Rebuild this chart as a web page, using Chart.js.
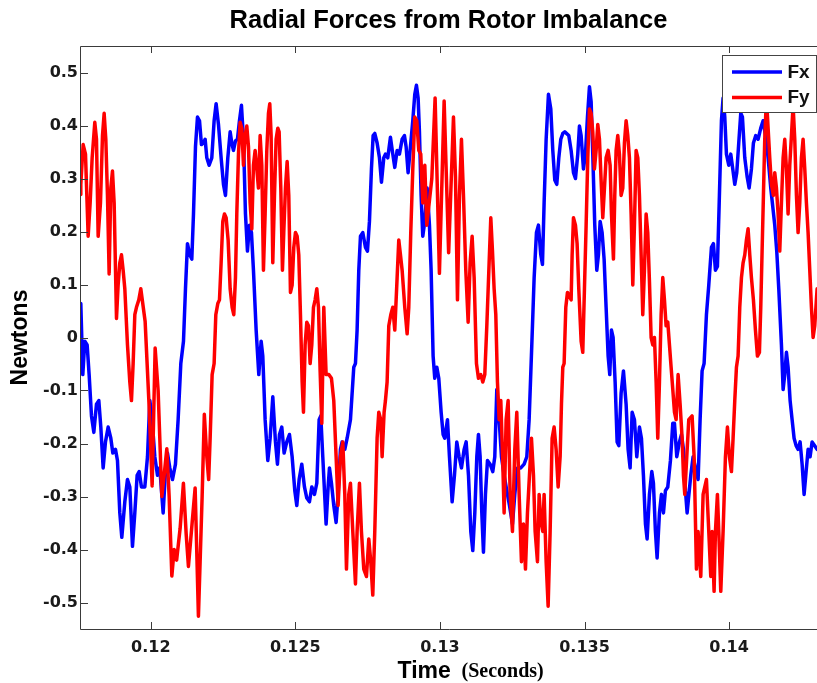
<!DOCTYPE html>
<html><head><meta charset="utf-8">
<script src="https://cdn.jsdelivr.net/npm/chart.js@4.4.1/dist/chart.umd.min.js"></script>
<style>html,body{margin:0;padding:0;background:#fff;overflow:hidden}#wrap{position:relative;width:817px;height:683px;background:#fff}</style>
</head><body><div id="wrap"><canvas id="c" width="817" height="683"></canvas></div>
<script>
const chartTitle = 'Radial Forces from Rotor Imbalance';
const yAxisLabel = 'Newtons';
const xAxisLabelMain = 'Time';
const xAxisLabelUnit = '(Seconds)';
const seriesNames = ['Fx', 'Fy'];
const seriesColors = ['#0000ff', '#ff0000'];
const xTickValues = [0.12, 0.125, 0.13, 0.135, 0.14];
const xTickLabels = ['0.12', '0.125', '0.13', '0.135', '0.14'];
const yTickValues = [-0.5, -0.4, -0.3, -0.2, -0.1, 0, 0.1, 0.2, 0.3, 0.4, 0.5];
const yTickLabels = ['-0.5', '-0.4', '-0.3', '-0.2', '-0.1', '0', '0.1', '0.2', '0.3', '0.4', '0.5'];
const xRange = [0.11755, 0.14304];
const yRange = [-0.55, 0.55];

// [time in ms, force in N]
const fxSamples = [
[117.55,0.05],[117.578,0.064],[117.647,-0.070],[117.717,-0.007],[117.797,-0.014],[117.866,-0.070],[117.947,-0.148],[118.028,-0.179],[118.120,-0.126],[118.201,-0.119],[118.270,-0.169],[118.351,-0.246],[118.431,-0.197],[118.524,-0.169],[118.616,-0.190],[118.685,-0.218],[118.777,-0.211],[118.846,-0.232],[118.927,-0.331],[118.996,-0.377],[119.100,-0.310],[119.192,-0.268],[119.273,-0.282],[119.365,-0.394],[119.446,-0.331],[119.526,-0.260],[119.596,-0.253],[119.676,-0.282],[119.792,-0.282],[119.884,-0.225],[119.965,-0.119],[120.045,-0.155],[120.137,-0.225],[120.230,-0.260],[120.310,-0.246],[120.368,-0.289],[120.426,-0.331],[120.506,-0.253],[120.575,-0.218],[120.656,-0.246],[120.748,-0.268],[120.852,-0.239],[120.944,-0.155],[121.037,-0.049],[121.129,-0.007],[121.198,0.092],[121.267,0.177],[121.348,0.156],[121.417,0.148],[121.475,0.233],[121.544,0.360],[121.613,0.416],[121.683,0.409],[121.751,0.364],
[121.820,0.367],[121.878,0.374],[121.936,0.339],[122.016,0.325],[122.108,0.339],[122.189,0.409],[122.258,0.441],[122.339,0.402],[122.431,0.339],[122.512,0.289],[122.581,0.268],[122.662,0.339],[122.743,0.388],[122.800,0.367],[122.858,0.353],[122.927,0.371],[122.996,0.374],[123.065,0.409],[123.134,0.438],[123.204,0.374],[123.273,0.233],[123.342,0.163],[123.411,0.212],[123.480,0.198],[123.549,0.127],[123.642,0.014],[123.734,-0.070],[123.815,-0.007],[123.872,-0.035],[123.953,-0.155],[124.045,-0.232],[124.126,-0.190],[124.218,-0.112],[124.310,-0.197],[124.379,-0.239],[124.449,-0.183],[124.529,-0.169],[124.610,-0.218],[124.702,-0.197],[124.794,-0.183],[124.887,-0.225],[124.979,-0.289],[125.048,-0.317],[125.129,-0.268],[125.221,-0.239],[125.313,-0.282],[125.394,-0.303],[125.486,-0.310],[125.567,-0.282],[125.659,-0.296],[125.740,-0.275],[125.821,-0.155],[125.878,-0.148],[125.947,-0.225],
[126.062,-0.352],[126.132,-0.282],[126.178,-0.246],[126.247,-0.275],[126.327,-0.317],[126.408,-0.349],[126.477,-0.296],[126.558,-0.211],[126.616,-0.197],[126.708,-0.211],[126.789,-0.190],[126.904,-0.155],[127.019,-0.056],[127.077,-0.049],[127.134,0.014],[127.192,0.127],[127.250,0.191],[127.330,0.198],[127.423,0.170],[127.492,0.163],[127.561,0.219],[127.630,0.318],[127.688,0.381],[127.745,0.385],[127.826,0.367],[127.907,0.339],[127.976,0.293],[128.057,0.339],[128.114,0.346],[128.195,0.339],[128.287,0.378],[128.368,0.346],[128.437,0.321],[128.518,0.353],[128.598,0.346],[128.691,0.374],[128.771,0.381],[128.829,0.360],[128.898,0.311],[128.979,0.360],[129.060,0.409],[129.129,0.459],[129.186,0.476],[129.244,0.452],[129.290,0.388],[129.348,0.268],[129.405,0.191],[129.475,0.219],[129.555,0.282],[129.636,0.212],[129.694,0.127],[129.763,-0.035],[129.820,-0.077],[129.890,-0.056],[129.959,-0.077],[130.040,-0.141],[130.109,-0.183],[130.166,-0.190],
[130.259,-0.155],[130.328,-0.225],[130.421,-0.310],[130.501,-0.260],[130.582,-0.197],[130.663,-0.225],[130.743,-0.246],[130.836,-0.211],[130.905,-0.197],[130.986,-0.260],[131.066,-0.366],[131.135,-0.402],[131.205,-0.331],[131.274,-0.225],[131.331,-0.183],[131.389,-0.225],[131.447,-0.331],[131.504,-0.405],[131.573,-0.296],[131.643,-0.232],[131.735,-0.239],[131.827,-0.253],[131.896,-0.225],[131.965,-0.098],[132.046,-0.155],[132.127,-0.225],[132.219,-0.260],[132.311,-0.289],[132.404,-0.317],[132.507,-0.352],[132.588,-0.296],[132.680,-0.246],[132.795,-0.246],[132.911,-0.239],[133.003,-0.225],[133.084,-0.155],[133.176,-0.014],[133.257,0.113],[133.337,0.198],[133.406,0.212],[133.487,0.156],[133.545,0.138],[133.602,0.254],[133.672,0.374],[133.752,0.459],[133.833,0.431],[133.902,0.353],[133.971,0.297],[134.040,0.289],[134.110,0.339],[134.179,0.374],[134.248,0.385],[134.317,0.388],
[134.455,0.381],[134.536,0.353],[134.617,0.311],[134.686,0.300],[134.766,0.346],[134.824,0.399],[134.882,0.381],[134.962,0.318],[135.032,0.346],[135.101,0.416],[135.170,0.473],[135.228,0.445],[135.285,0.346],[135.354,0.212],[135.424,0.127],[135.481,0.156],[135.539,0.219],[135.608,0.198],[135.677,0.148],[135.746,0.057],[135.816,-0.035],[135.873,-0.070],[135.931,0.014],[135.988,0.000],[136.058,-0.084],[136.127,-0.197],[136.185,-0.204],[136.265,-0.105],[136.346,-0.063],[136.438,-0.126],[136.507,-0.211],[136.576,-0.246],[136.646,-0.141],[136.726,-0.155],[136.807,-0.225],[136.899,-0.169],[136.968,-0.190],[137.037,-0.260],[137.107,-0.352],[137.164,-0.380],[137.245,-0.296],[137.326,-0.253],[137.383,-0.275],[137.452,-0.366],[137.510,-0.416],[137.591,-0.331],[137.660,-0.296],[137.729,-0.331],[137.798,-0.289],[137.879,-0.282],[137.971,-0.232],[138.052,-0.162],[138.110,-0.162],[138.190,-0.225],[138.283,-0.197],[138.352,-0.183],[138.421,-0.211],[138.490,-0.289],[138.548,-0.331],
[138.674,-0.260],[138.755,-0.225],[138.836,-0.246],[138.928,-0.268],[138.997,-0.155],[139.066,-0.063],[139.135,-0.049],[139.216,0.043],[139.297,0.099],[139.389,0.170],[139.458,0.177],[139.527,0.127],[139.596,0.134],[139.654,0.247],[139.735,0.409],[139.792,0.452],[139.850,0.416],[139.908,0.346],[139.988,0.325],[140.058,0.346],[140.127,0.318],[140.196,0.289],[140.265,0.311],[140.334,0.367],[140.403,0.423],[140.461,0.416],[140.542,0.339],[140.622,0.304],[140.692,0.282],[140.772,0.318],[140.841,0.367],[140.922,0.381],[141.003,0.374],[141.095,0.395],[141.176,0.409],[141.256,0.381],[141.349,0.339],[141.441,0.282],[141.510,0.247],[141.579,0.212],[141.648,0.163],[141.718,0.092],[141.810,-0.014],[141.868,-0.098],[141.925,-0.070],[141.983,-0.028],[142.040,-0.056],[142.110,-0.119],[142.179,-0.155],[142.248,-0.190],[142.317,-0.204],[142.386,-0.211],[142.455,-0.197],[142.525,-0.239],[142.594,-0.296],[142.663,-0.253],[142.732,-0.211],[142.801,-0.225],[142.870,-0.197],[143.043,-0.211]
];

const fySamples = [
[117.55,0.27],[117.578,0.289],[117.659,0.364],[117.740,0.346],[117.832,0.191],[117.901,0.254],[117.970,0.339],[118.062,0.406],[118.120,0.374],[118.178,0.191],[118.258,0.254],[118.328,0.381],[118.385,0.423],[118.443,0.374],[118.500,0.268],[118.558,0.120],[118.616,0.282],[118.673,0.314],[118.731,0.254],[118.812,0.036],[118.869,0.099],[118.927,0.141],[118.985,0.156],[119.042,0.127],[119.100,0.092],[119.192,-0.014],[119.273,-0.084],[119.330,-0.119],[119.388,-0.049],[119.446,0.043],[119.503,0.057],[119.584,0.071],[119.653,0.092],[119.803,0.030],[119.941,-0.130],[120.045,-0.280],[120.149,-0.020],[120.252,-0.100],[120.380,-0.300],[120.460,-0.260],[120.553,-0.210],[120.633,-0.300],[120.726,-0.450],[120.806,-0.400],[120.892,-0.420],[121.013,-0.360],[121.127,-0.275],[121.221,-0.370],[121.300,-0.432],[121.428,-0.350],[121.532,-0.284],[121.646,-0.526],[121.774,-0.300],[121.850,-0.145],[121.936,-0.225],[122.000,-0.268],[122.051,-0.190],
[122.120,-0.070],[122.189,-0.049],[122.247,0.043],[122.316,0.064],[122.374,0.071],[122.431,0.141],[122.489,0.219],[122.547,0.233],[122.604,0.226],[122.673,0.184],[122.743,0.092],[122.812,0.057],[122.869,0.043],[122.927,0.113],[122.973,0.233],[123.031,0.346],[123.088,0.406],[123.146,0.395],[123.204,0.325],[123.261,0.381],[123.319,0.399],[123.377,0.360],[123.434,0.254],[123.492,0.205],[123.549,0.325],[123.607,0.353],[123.665,0.318],[123.722,0.282],[123.780,0.381],[123.838,0.325],[123.895,0.127],[123.953,0.233],[124.011,0.353],[124.068,0.423],[124.114,0.441],[124.160,0.381],[124.218,0.141],[124.276,0.268],[124.333,0.374],[124.391,0.395],[124.437,0.388],[124.495,0.282],[124.552,0.127],[124.598,0.198],[124.656,0.282],[124.714,0.332],[124.771,0.268],[124.829,0.085],[124.887,0.099],[124.944,0.170],[125.002,0.198],[125.060,0.191],[125.117,0.156],[125.175,0.043],[125.233,-0.084],[125.279,-0.141],[125.336,-0.014],[125.394,0.029],[125.452,0.022],[125.509,-0.049],[125.567,-0.014],[125.625,0.057],[125.682,0.071],[125.740,0.092],[125.798,0.057],[125.855,-0.063],[125.913,-0.162],[125.982,0.057],
[126.062,-0.070],[126.155,-0.070],[126.247,-0.077],[126.327,-0.119],[126.408,-0.225],[126.477,-0.317],[126.558,-0.225],[126.639,-0.197],[126.708,-0.296],[126.766,-0.437],[126.846,-0.296],[126.904,-0.275],[126.985,-0.366],[127.077,-0.465],[127.134,-0.366],[127.215,-0.275],[127.284,-0.366],[127.365,-0.437],[127.457,-0.451],[127.538,-0.380],[127.607,-0.423],[127.676,-0.486],[127.745,-0.366],[127.826,-0.190],[127.884,-0.141],[127.953,-0.155],[127.999,-0.225],[128.068,-0.141],[128.114,-0.119],[128.172,-0.084],[128.230,0.022],[128.299,0.043],[128.368,0.057],[128.437,0.014],[128.518,0.113],[128.575,0.184],[128.633,0.156],[128.691,0.127],[128.783,0.057],[128.864,0.007],[128.921,0.057],[128.990,0.198],[129.060,0.318],[129.129,0.416],[129.198,0.409],[129.267,0.353],[129.336,0.346],[129.405,0.254],[129.475,0.325],[129.544,0.212],[129.718,0.300],[129.832,0.452],[129.981,0.121],[130.144,0.446],[130.300,0.160],
[130.467,0.416],[130.536,0.304],[130.605,0.071],[130.674,0.268],[130.743,0.374],[130.813,0.268],[130.893,0.127],[130.974,0.029],[131.043,0.141],[131.112,0.191],[131.182,0.113],[131.262,-0.049],[131.331,-0.077],[131.412,-0.070],[131.481,-0.084],[131.550,-0.070],[131.620,0.022],[131.700,0.141],[131.758,0.226],[131.816,0.163],[131.873,0.092],[131.931,0.043],[131.988,-0.084],[132.046,-0.155],[132.104,-0.119],[132.173,-0.239],[132.219,-0.331],[132.288,-0.155],[132.357,-0.119],[132.427,-0.296],[132.507,-0.366],[132.588,-0.211],[132.657,-0.141],[132.738,-0.296],[132.818,-0.423],[132.888,-0.352],[132.957,-0.437],[133.026,-0.331],[133.095,-0.260],[133.164,-0.190],[133.234,-0.260],[133.291,-0.366],[133.372,-0.423],[133.430,-0.296],[133.487,-0.345],[133.556,-0.366],[133.602,-0.296],[133.672,-0.423],[133.741,-0.507],[133.810,-0.366],[133.879,-0.190],[133.948,-0.169],[134.017,-0.211],[134.087,-0.282],[134.156,-0.225],[134.202,-0.126],[134.248,-0.056],[134.294,-0.049],[134.352,0.057],[134.409,0.085],
[134.478,0.078],[134.536,0.071],[134.571,0.156],[134.617,0.226],[134.686,0.212],[134.743,0.177],[134.801,0.092],[134.882,-0.007],[134.939,-0.028],[134.997,0.092],[135.055,0.212],[135.112,0.339],[135.170,0.431],[135.228,0.423],[135.285,0.388],[135.343,0.318],[135.401,0.353],[135.458,0.402],[135.516,0.374],[135.573,0.297],[135.631,0.226],[135.689,0.282],[135.746,0.339],[135.816,0.353],[135.885,0.325],[135.931,0.233],[136.000,0.148],[136.046,0.268],[136.092,0.353],[136.150,0.381],[136.207,0.346],[136.265,0.268],[136.323,0.282],[136.380,0.367],[136.438,0.409],[136.496,0.381],[136.553,0.339],[136.611,0.233],[136.669,0.099],[136.726,0.212],[136.784,0.353],[136.842,0.339],[136.899,0.268],[136.957,0.156],[137.014,0.043],[137.072,0.127],[137.130,0.233],[137.187,0.198],[137.245,0.106],[137.303,0.000],[137.360,-0.014],[137.418,0.000],[137.476,-0.084],[137.533,-0.190],[137.591,-0.084],[137.649,0.043],[137.706,0.113],[137.764,0.071],[137.821,0.022],[137.879,0.029],[137.937,-0.014],[137.994,-0.056],[138.052,-0.098],[138.110,-0.141],[138.167,-0.155],[138.236,-0.070],[138.306,-0.126],[138.375,-0.190],[138.421,-0.260],[138.467,-0.296],[138.536,-0.225],[138.605,-0.155],
[138.720,-0.148],[138.790,-0.225],[138.870,-0.437],[138.928,-0.366],[139.020,-0.451],[139.101,-0.296],[139.216,-0.268],[139.297,-0.366],[139.366,-0.451],[139.412,-0.366],[139.481,-0.479],[139.527,-0.366],[139.596,-0.296],[139.643,-0.366],[139.712,-0.479],[139.792,-0.366],[139.873,-0.225],[139.942,-0.169],[140.011,-0.225],[140.081,-0.253],[140.138,-0.190],[140.196,-0.119],[140.254,-0.056],[140.311,-0.035],[140.369,0.057],[140.427,0.113],[140.484,0.141],[140.542,0.156],[140.599,0.184],[140.657,0.205],[140.715,0.156],[140.772,0.113],[140.841,0.071],[140.911,0.014],[140.980,-0.035],[141.049,-0.028],[141.095,0.057],[141.141,0.163],[141.187,0.268],[141.233,0.374],[141.291,0.452],[141.349,0.395],[141.406,0.339],[141.464,0.289],[141.533,0.268],[141.579,0.311],[141.637,0.282],[141.695,0.233],[141.752,0.163],[141.810,0.254],[141.868,0.339],[141.925,0.374],[141.983,0.318],[142.040,0.233],[142.098,0.325],[142.156,0.381],[142.213,0.438],[142.271,0.374],[142.329,0.268],[142.386,0.198],[142.444,0.254],[142.501,0.339],[142.559,0.374],[142.617,0.318],[142.674,0.254],[142.732,0.198],[142.790,0.127],[142.847,0.057],[142.905,0.000],[142.962,0.022],[143.043,0.092]
];

const sansFont = '"Liberation Sans", Arial, Helvetica, sans-serif';
const serifFont = '"Liberation Serif", "Times New Roman", serif';
const tickFont = '"DejaVu Sans", Verdana, sans-serif';

const toPoints = arr => arr.map(([t, v]) => ({ x: t / 1000, y: v }));

const axesBox = {
  id: 'axesBox',
  afterDatasetsDraw(chart) {
    const { ctx, chartArea: a, scales: { x, y } } = chart;
    ctx.save();
    ctx.strokeStyle = '#3a3a3a';
    ctx.lineWidth = 1;
    ctx.beginPath();
    ctx.moveTo(a.right + 2, a.top + 0.5);
    ctx.lineTo(a.left + 0.5, a.top + 0.5);
    ctx.lineTo(a.left + 0.5, a.bottom + 0.5);
    ctx.lineTo(a.right + 2, a.bottom + 0.5);
    xTickValues.forEach(v => {
      const px = Math.round(x.getPixelForValue(v)) + 0.5;
      ctx.moveTo(px, a.bottom); ctx.lineTo(px, a.bottom - 7);
      ctx.moveTo(px, a.top); ctx.lineTo(px, a.top + 7);
    });
    yTickValues.forEach(v => {
      const py = Math.round(y.getPixelForValue(v)) + 0.5;
      ctx.moveTo(a.left, py); ctx.lineTo(a.left + 8, py);
    });
    ctx.stroke();
    ctx.restore();
  }
};

const legendBox = {
  id: 'legendBox',
  afterDraw(chart) {
    const { ctx, chartArea: a } = chart;
    const bx = a.right - 94.5, by = a.top + 9.5, bw = 94, bh = 57;
    ctx.save();
    ctx.fillStyle = '#fff';
    ctx.fillRect(bx, by, bw, bh);
    ctx.strokeStyle = '#444';
    ctx.lineWidth = 1;
    ctx.strokeRect(bx, by, bw, bh);
    chart.data.datasets.forEach((ds, i) => {
      const ly = by + 16.5 + i * 25.5;
      ctx.strokeStyle = ds.borderColor;
      ctx.lineWidth = 3.5;
      ctx.beginPath();
      ctx.moveTo(bx + 9.5, ly); ctx.lineTo(bx + 59.5, ly);
      ctx.stroke();
      ctx.fillStyle = '#111';
      ctx.font = 'bold 19px ' + sansFont;
      ctx.textBaseline = 'middle';
      ctx.textAlign = 'left';
      ctx.fillText(ds.label, bx + 65, ly + 0.5);
    });
    ctx.restore();
  }
};

const xLabel = {
  id: 'xLabel',
  afterDraw(chart) {
    const { ctx } = chart;
    ctx.save();
    ctx.fillStyle = '#000';
    ctx.textAlign = 'left';
    ctx.textBaseline = 'alphabetic';
    ctx.font = 'bold 23px ' + sansFont;
    ctx.fillText(xAxisLabelMain, 397.5, 678);
    ctx.font = 'bold 20px ' + serifFont;
    ctx.fillText(xAxisLabelUnit, 461.5, 677);
    ctx.restore();
  }
};

new Chart(document.getElementById('c'), {
  type: 'line',
  data: {
    datasets: [
      { label: seriesNames[0], data: toPoints(fxSamples), borderColor: seriesColors[0], backgroundColor: seriesColors[0], borderWidth: 3.5, pointRadius: 0, tension: 0, order: 1, borderJoinStyle: 'round', borderCapStyle: 'round', fill: false },
      { label: seriesNames[1], data: toPoints(fySamples), borderColor: seriesColors[1], backgroundColor: seriesColors[1], borderWidth: 3.5, pointRadius: 0, tension: 0, order: 0, borderJoinStyle: 'round', borderCapStyle: 'round', fill: false }
    ]
  },
  options: {
    responsive: false,
    animation: false,
    devicePixelRatio: 1,
    layout: { padding: 0 },
    events: [],
    plugins: {
      legend: { display: false },
      tooltip: { enabled: false },
      title: {
        display: true, text: chartTitle, fullSize: false, color: '#000',
        font: { family: sansFont, size: 25.5, weight: 'bold', lineHeight: 1.2 },
        padding: { top: 5.7, bottom: 9.7 }
      }
    },
    scales: {
      x: {
        type: 'linear', position: 'bottom', min: xRange[0], max: xRange[1],
        grid: { display: false, drawTicks: false },
        border: { display: false },
        ticks: {
          color: '#1a1a1a', padding: 9, maxRotation: 0, autoSkip: false,
          font: { family: tickFont, size: 16, weight: 'bold' },
          callback: (v, i) => xTickLabels[i]
        },
        afterBuildTicks: s => { s.ticks = xTickValues.map(v => ({ value: v })); },
        afterFit: s => { s.height = 54; }
      },
      y: {
        type: 'linear', position: 'left', min: yRange[0], max: yRange[1],
        grid: { display: false, drawTicks: false },
        border: { display: false },
        ticks: {
          color: '#1a1a1a', padding: 2, autoSkip: false,
          font: { family: tickFont, size: 16, weight: 'bold' },
          callback: (v, i) => yTickLabels[i]
        },
        title: {
          display: true, text: yAxisLabel, color: '#000',
          font: { family: sansFont, size: 23, weight: 'bold', lineHeight: 1.2 },
          padding: { top: 7.2, bottom: 0 }
        },
        afterBuildTicks: s => { s.ticks = yTickValues.map(v => ({ value: v })); },
        afterFit: s => { s.width = 80; }
      }
    }
  },
  plugins: [axesBox, legendBox, xLabel]
});
</script>
</body></html>
